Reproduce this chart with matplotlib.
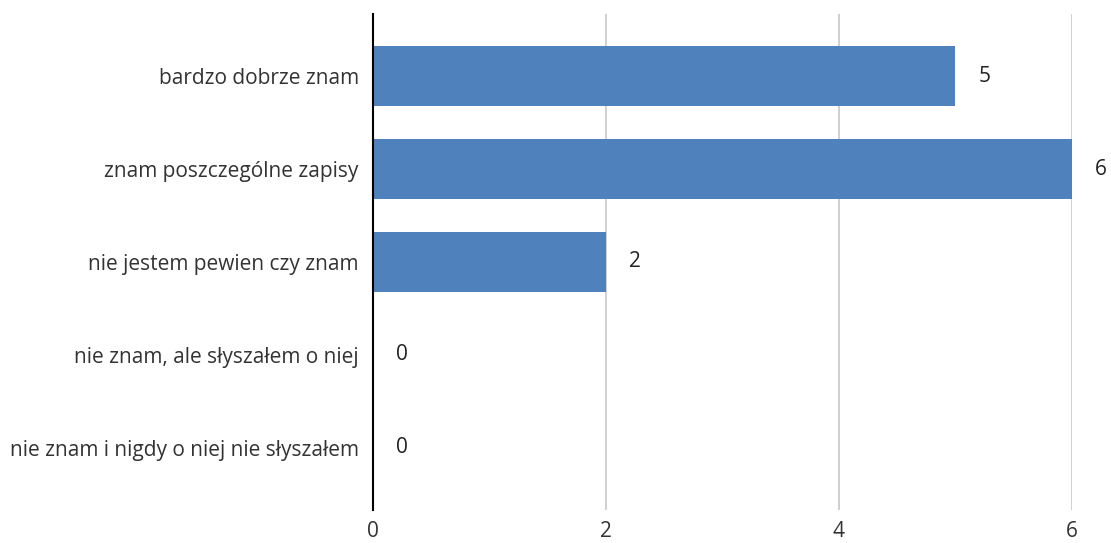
import matplotlib.pyplot as plt

categories = ["bardzo dobrze znam", "znam poszczególne zapisy", "nie jestem pewien czy znam",
              "nie znam, ale słyszałem o niej", "nie znam i nigdy o niej nie słyszałem"]
values = [5, 6, 2, 0, 0]
xticks = [0, 2, 4, 6]

plt.rcParams['font.family'] = ['Open Sans', 'DejaVu Sans']

fig = plt.figure(figsize=(11.11, 5.43), dpi=100)
ax = fig.add_axes([0.3355, 0.0608, 0.6291, 0.9134])

pos = list(range(len(categories)))
ax.barh(pos, values, height=0.645, color="#4F81BD", zorder=3)

# value labels right of bars
for y, v in zip(pos, values):
    ax.text(v + 0.2, y, str(v), va="center", ha="left", fontsize=15, color="#222222")

ax.set_yticks(pos)
ax.set_yticklabels(categories, fontsize=15, color="#333333")
ax.set_ylim(len(categories) - 1 + 0.667, -0.667)
ax.set_xlim(0, 6)
ax.set_xticks(xticks)
ax.set_xticklabels([str(t) for t in xticks], fontsize=15, color="#333333")
ax.tick_params(axis="both", length=0)
ax.tick_params(axis="y", pad=10)
ax.tick_params(axis="x", pad=8)

ax.grid(axis="x", color="#C8C8C8", linewidth=1.2, zorder=0)
for s in ["top", "right", "bottom"]:
    ax.spines[s].set_visible(False)
ax.spines["left"].set_color("black")
ax.spines["left"].set_linewidth(1.5)
ax.spines["left"].set_zorder(4)

fig.savefig("out.png", dpi=100)
